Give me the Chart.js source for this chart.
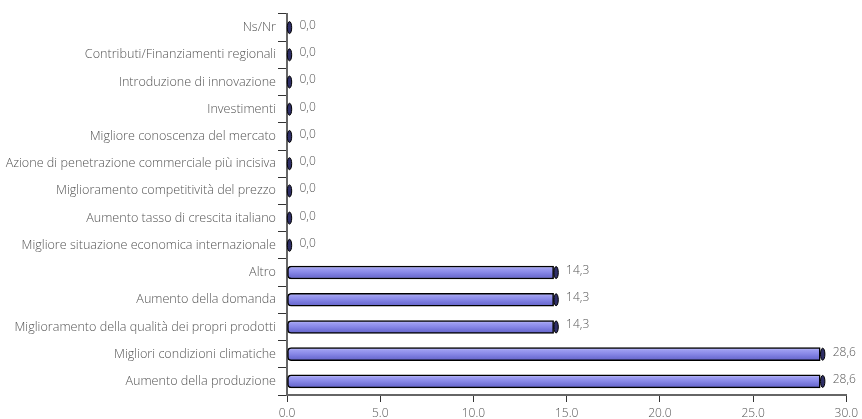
<!DOCTYPE html>
<html>
<head>
<meta charset="utf-8">
<script src="https://cdn.jsdelivr.net/npm/chart.js@4.4.0/dist/chart.umd.min.js"></script>
<style>
  html, body { margin: 0; padding: 0; background: #fff; }
  #wrap { width: 862px; height: 419px; }
</style>
</head>
<body>
<div id="wrap"><canvas id="chart"></canvas></div>
<script>
// Categories, top to bottom as in the picture
const categories = [
  'Ns/Nr',
  'Contributi/Finanziamenti regionali',
  'Introduzione di innovazione',
  'Investimenti',
  'Migliore conoscenza del mercato',
  'Azione di penetrazione commerciale più incisiva',
  'Miglioramento competitività del prezzo',
  'Aumento tasso di crescita italiano',
  'Migliore situazione economica internazionale',
  'Altro',
  'Aumento della domanda',
  'Miglioramento della qualità dei propri prodotti',
  'Migliori condizioni climatiche',
  'Aumento della produzione'
];
const values = [0.0, 0.0, 0.0, 0.0, 0.0, 0.0, 0.0, 0.0, 0.0, 14.3, 14.3, 14.3, 28.6, 28.6];
const xMin = 0;
const xMax = 30;
const xStep = 5;

const FONT = '"Open Sans", "DejaVu Sans", sans-serif';
const BAR_H = 13;

// Gradient fill for the cylinder look
function barFill(context) {
  const chart = context.chart;
  const yScale = chart.scales.y;
  if (!yScale || !chart.chartArea) return '#8585e4';
  const cy = yScale.getPixelForValue(context.dataIndex);
  const g = chart.ctx.createLinearGradient(0, cy - BAR_H / 2, 0, cy + BAR_H / 2);
  g.addColorStop(0, '#c8c8fa');
  g.addColorStop(0.2, '#9c9cf0');
  g.addColorStop(0.45, '#8a8ae8');
  g.addColorStop(0.7, '#7676da');
  g.addColorStop(1, '#6464c8');
  return g;
}

// End caps and value labels
const capsAndLabels = {
  id: 'capsAndLabels',
  afterDatasetsDraw(chart) {
    const ctx = chart.ctx;
    const meta = chart.getDatasetMeta(0);
    meta.data.forEach((bar, i) => {
      const ex = bar.x + 2.5;
      const cy = bar.y;
      ctx.save();
      ctx.beginPath();
      ctx.ellipse(ex, cy, 2.2, BAR_H / 2 - 0.5, 0, 0, Math.PI * 2);
      ctx.fillStyle = '#2e2e66';
      ctx.fill();
      ctx.lineWidth = 1;
      ctx.strokeStyle = '#000';
      ctx.stroke();

      ctx.font = '300 12px ' + FONT;
      ctx.fillStyle = '#555';
      ctx.textBaseline = 'middle';
      ctx.textAlign = 'left';
      const txt = values[i].toFixed(1).replace('.', ',');
      ctx.fillText(txt, ex + 10, cy - 2);
      ctx.restore();
    });
  }
};

new Chart(document.getElementById('chart').getContext('2d'), {
  type: 'bar',
  data: {
    labels: categories,
    datasets: [{
      data: values,
      backgroundColor: barFill,
      borderColor: '#000',
      borderWidth: 1.5,
      borderSkipped: false,
      borderRadius: { topLeft: 4, bottomLeft: 4, topRight: 0, bottomRight: 0 },
      barThickness: BAR_H
    }]
  },
  options: {
    indexAxis: 'y',
    responsive: true,
    maintainAspectRatio: false,
    animation: false,
    layout: { padding: { top: 14, right: 14, left: 0, bottom: 0 } },
    plugins: {
      legend: { display: false },
      tooltip: { enabled: false },
      title: { display: false }
    },
    scales: {
      y: {
        type: 'category',
        afterFit: (scale) => { scale.width = 287; },
        grid: {
          offset: true,
          drawOnChartArea: false,
          tickLength: 9,
          color: '#333',
          lineWidth: 1
        },
        border: { color: '#666', width: 2 },
        ticks: {
          padding: 2,
          color: '#555',
          font: { family: FONT, size: 12.6, weight: '300' }
        }
      },
      x: {
        min: xMin,
        max: xMax,
        afterFit: (scale) => { scale.height = 24; },
        grid: {
          drawOnChartArea: false,
          tickLength: 7,
          color: '#333',
          lineWidth: 1
        },
        border: { color: '#666', width: 2 },
        ticks: {
          stepSize: xStep,
          padding: 4,
          color: '#555',
          font: { family: FONT, size: 12, weight: '300' },
          callback: (v) => Number(v).toFixed(1)
        }
      }
    }
  },
  plugins: [capsAndLabels]
});
</script>
</body>
</html>
